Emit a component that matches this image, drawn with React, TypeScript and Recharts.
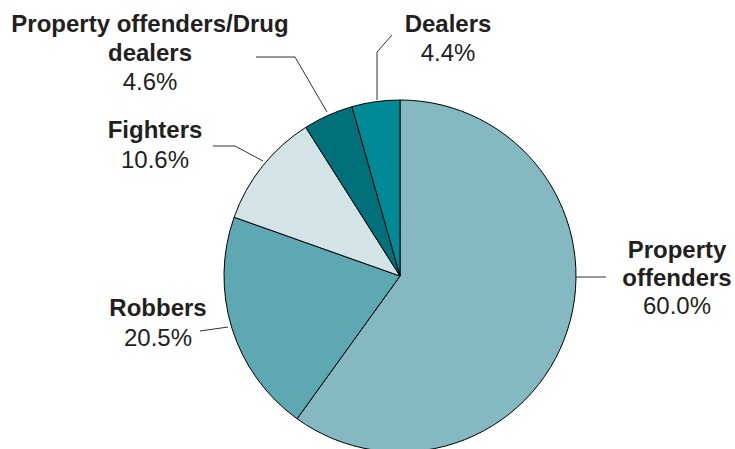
import React from "react";
import { PieChart, Pie, Cell } from "recharts";

const categories = [
  "Property offenders",
  "Robbers",
  "Fighters",
  "Property offenders/Drug dealers",
  "Dealers",
];
const shares = [60.0, 20.5, 10.6, 4.6, 4.4];
const labelLines = [
  ["Property", "offenders"],
  ["Robbers"],
  ["Fighters"],
  ["Property offenders/Drug", "dealers"],
  ["Dealers"],
];
const colors = ["#84b9c2", "#5ea8b3", "#d2e4e8", "#00707a", "#008a96"];

// label placement, relative to the pie centre
const labelPos = [
  { x: 277, ys: [-18, 10, 38], leader: [[175, 1], [206, 1]] },
  { x: -242, ys: [40, 70], leader: [[-200, 55], [-172, 51]] },
  { x: -245, ys: [-138, -108], leader: [[-187, -130], [-165, -130], [-137, -115]] },
  { x: -250, ys: [-244, -215, -186], leader: [[-144, -219], [-105, -219], [-73, -164]] },
  { x: 48, ys: [-244, -215], leader: [[-8, -241], [-23, -224], [-23, -176]] },
];

const data = categories.map((name, i) => ({ name, value: shares[i] }));

const FONT = "'Liberation Sans', Arial, sans-serif";

function renderLabel(props: any) {
  const { cx, cy, index } = props;
  const pos = labelPos[index];
  const lines = labelLines[index];
  const pts = pos.leader.map(([dx, dy]) => `${cx + dx},${cy + dy}`).join(" ");
  return (
    <g key={`lbl-${index}`}>
      <polyline points={pts} fill="none" stroke="#333" strokeWidth={1} />
      {lines.map((t, j) => (
        <text
          key={j}
          x={cx + pos.x}
          y={cy + pos.ys[j]}
          textAnchor="middle"
          fontFamily={FONT}
          fontSize={24}
          fontWeight="bold"
          fill="#231f20"
        >
          {t}
        </text>
      ))}
      <text
        x={cx + pos.x}
        y={cy + pos.ys[lines.length]}
        textAnchor="middle"
        fontFamily={FONT}
        fontSize={24}
        fill="#231f20"
      >
        {shares[index].toFixed(1)}%
      </text>
    </g>
  );
}

export default function App() {
  return (
    <div style={{ position: "absolute", left: 0, top: 0, background: "#fff" }}>
      <PieChart width={735} height={449} margin={{ top: 0, right: 0, bottom: 0, left: 0 }}>
        <Pie
          data={data}
          dataKey="value"
          nameKey="name"
          cx={400}
          cy={276}
          outerRadius={176}
          startAngle={90}
          endAngle={-270}
          stroke="#000"
          strokeWidth={1}
          label={renderLabel}
          labelLine={false}
          isAnimationActive={false}
        >
          {data.map((d, i) => (
            <Cell key={d.name} fill={colors[i]} />
          ))}
        </Pie>
      </PieChart>
    </div>
  );
}
